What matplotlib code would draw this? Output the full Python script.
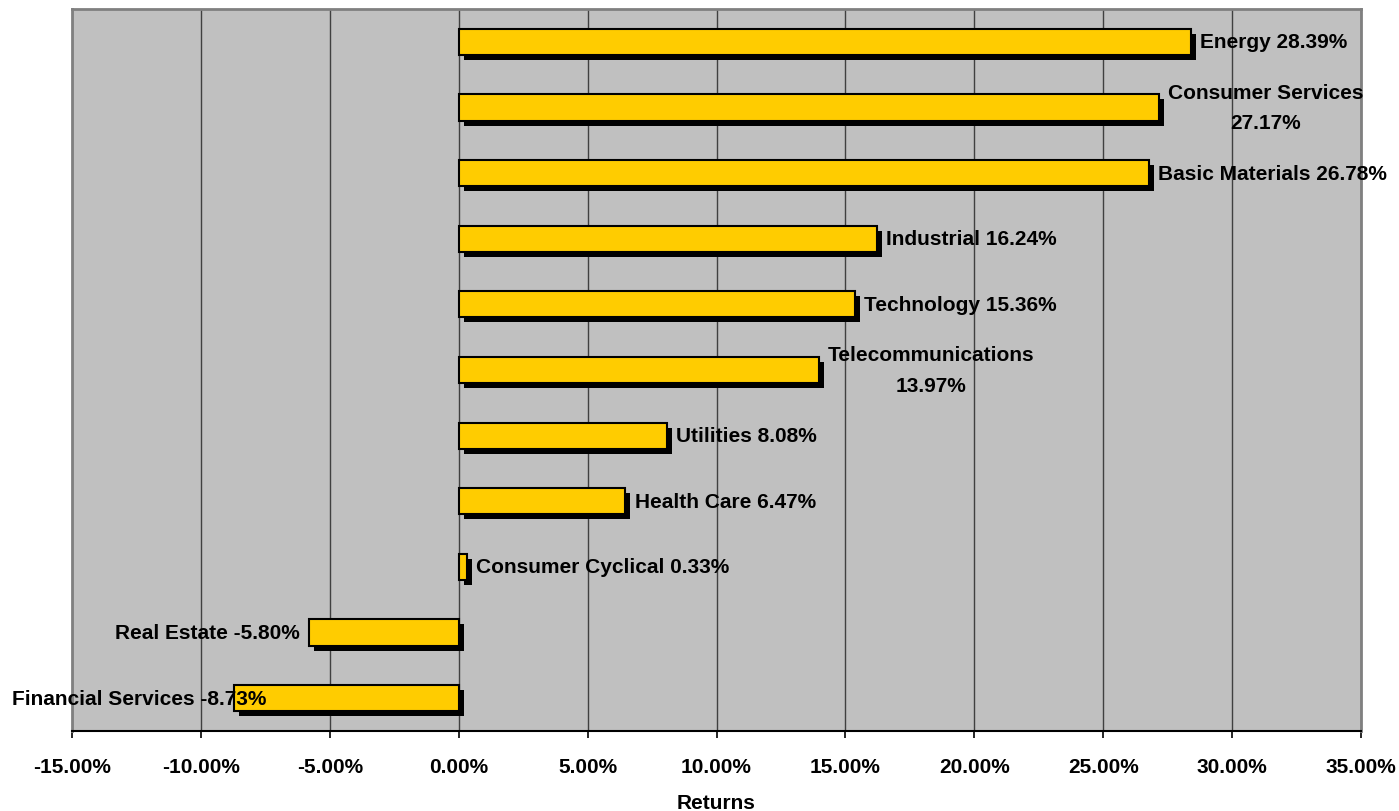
import matplotlib
matplotlib.use("Agg")
import matplotlib.pyplot as plt
import matplotlib.patheffects as pe
from matplotlib.ticker import FuncFormatter, MultipleLocator

plt.rcParams['font.family'] = ['Liberation Sans', 'DejaVu Sans']

sectors = ["Energy", "Consumer Services", "Basic Materials", "Industrial",
           "Technology", "Telecommunications", "Utilities", "Health Care",
           "Consumer Cyclical", "Real Estate", "Financial Services"]
returns = [28.39, 27.17, 26.78, 16.24, 15.36, 13.97, 8.08, 6.47, 0.33, -5.80, -8.73]
wrapped = {"Consumer Services", "Telecommunications"}

FS = 15

fig = plt.figure(figsize=(13.99, 8.12), dpi=100)
ax = fig.add_axes([72/1399, 1-732/812, (1361-72)/1399, (732-10)/812])
ax.set_facecolor('#C0C0C0')

ypos = list(range(len(sectors)))
bars = ax.barh(ypos, returns, height=0.4, color='#FFCC00', edgecolor='black',
               linewidth=1.5, zorder=3)
for b in bars:
    b.set_path_effects([pe.SimplePatchShadow(offset=(3.6, -3.6), shadow_rgbFace='black', alpha=1.0),
                        pe.Normal()])

ax.set_xlim(-15, 35)
ax.set_ylim(len(sectors) - 0.5, -0.5)
ax.xaxis.set_major_locator(MultipleLocator(5))
ax.xaxis.set_major_formatter(FuncFormatter(lambda v, p: f"{v:.2f}%"))
ax.set_yticks([])
ax.grid(axis='x', color='#404040', linewidth=1.0, zorder=1)
ax.set_axisbelow(True)

for s in ['top', 'right', 'left']:
    ax.spines[s].set_color('#808080')
    ax.spines[s].set_linewidth(2)
ax.spines['bottom'].set_color('black')
ax.spines['bottom'].set_linewidth(1.5)
ax.tick_params(axis='x', direction='out', length=5, width=1.2, color='black', pad=14,
               labelsize=FS)
for lab in ax.get_xticklabels():
    lab.set_fontweight('bold')

ax.set_xlabel("Returns", fontsize=FS, fontweight='bold', labelpad=12)

for i, (name, v) in enumerate(zip(sectors, returns)):
    if name in wrapped:
        txt = f"{name}\n{v:.2f}%"
    else:
        txt = f"{name} {v:.2f}%"
    if v >= 0:
        ax.annotate(txt, xy=(v, i), xytext=(6.5, 0), textcoords='offset points',
                    ha='left', va='center', multialignment='center',
                    fontsize=FS, fontweight='bold', zorder=5,
                    linespacing=1.75)
    elif name == "Financial Services":
        ax.annotate(txt, xy=(12/1399, i), xycoords=('figure fraction', 'data'),
                    ha='left', va='center', fontsize=FS, fontweight='bold',
                    zorder=5, annotation_clip=False)
    else:
        ax.annotate(txt, xy=(v, i), xytext=(-6.5, 0), textcoords='offset points',
                    ha='right', va='center', fontsize=FS, fontweight='bold', zorder=5)

fig.savefig("out.png", dpi=100)
